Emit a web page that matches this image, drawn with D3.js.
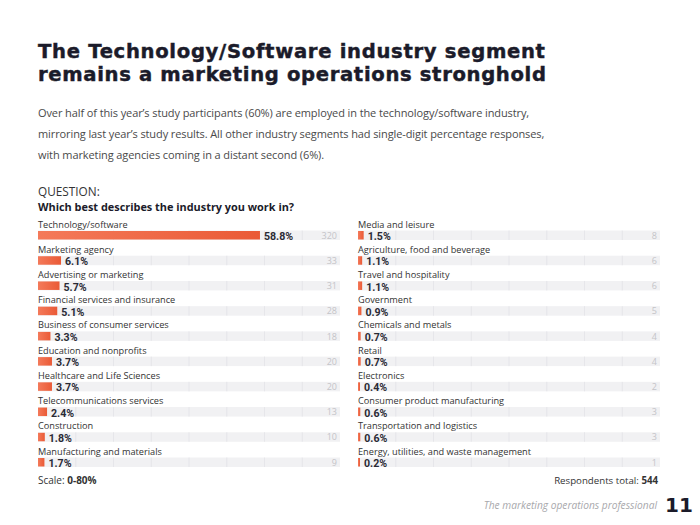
<!DOCTYPE html>
<html><head><meta charset="utf-8">
<script src="https://cdn.jsdelivr.net/npm/d3@7/dist/d3.min.js"></script>
<style>
html,body{margin:0;padding:0;background:#fff;}
svg{display:block;font-family:"Open Sans",sans-serif;}
</style></head>
<body>
<svg id="c" width="700" height="525"></svg>
<script>
const leftCategories = ["Technology/software","Marketing agency","Advertising or marketing","Financial services and insurance","Business of consumer services","Education and nonprofits","Healthcare and Life Sciences","Telecommunications services","Construction","Manufacturing and materials"];
const leftPercents = [58.8,6.1,5.7,5.1,3.3,3.7,3.7,2.4,1.8,1.7];
const leftCounts = [320,33,31,28,18,20,20,13,10,9];
const rightCategories = ["Media and leisure","Agriculture, food and beverage","Travel and hospitality","Government","Chemicals and metals","Retail","Electronics","Consumer product manufacturing","Transportation and logistics","Energy, utilities, and waste management"];
const rightPercents = [1.5,1.1,1.1,0.9,0.7,0.7,0.4,0.6,0.6,0.2];
const rightCounts = [8,6,6,5,4,4,2,3,3,1];
const gridTicks = [10,20,30,40,50,60,70];
const scaleMax = 80;
const respondentsTotal = 544;

const svg = d3.select("#c");
const defs = svg.append("defs");
const grad = defs.append("linearGradient").attr("id","barGrad").attr("x1","0").attr("x2","1").attr("y1","0").attr("y2","0");
grad.append("stop").attr("offset","0%").attr("stop-color","#f47a5a");
grad.append("stop").attr("offset","100%").attr("stop-color","#ea5a36");

// Title: letter-spacing fitted to the reference width
const titleLines = ["The Technology/Software industry segment","remains a marketing operations stronghold"];
const titleWidths = [507, 508];
const titleG = svg.append("g").attr("font-family","'DejaVu Sans',sans-serif").attr("font-weight","bold").attr("fill","#1b1b2a").attr("stroke","#1b1b2a").attr("stroke-width",0.45).attr("font-size","19.6px");
titleLines.forEach((t,i)=>{
  const ts = titleG.append("text").attr("x",38).attr("y",57.5+i*23).text(t);
  const nat = ts.node().getComputedTextLength();
  ts.attr("letter-spacing", ((titleWidths[i]-nat)/(t.length-1)).toFixed(3)+"px");
});

const sub = svg.append("g").attr("font-size","11px").attr("letter-spacing","-0.1px").attr("fill","#4a4a4a");
["Over half of this year’s study participants (60%) are employed in the technology/software industry,",
 "mirroring last year’s study results. All other industry segments had single-digit percentage responses,",
 "with marketing agencies coming in a distant second (6%)."].forEach((t,i)=>{
  sub.append("text").attr("x",38).attr("y",117+i*21).text(t);
});

svg.append("text").attr("x",38).attr("y",196).attr("font-size","11.8px").attr("fill","#333").text("QUESTION:");
svg.append("text").attr("x",38).attr("y",211).attr("font-size","10.9px").attr("font-weight","bold").attr("fill","#1b1b2a").text("Which best describes the industry you work in?");

const rowY = d3.scaleLinear().domain([0,9]).range([224,451]);

function panel(x0, x1, cats, pcts, counts){
  const x = d3.scaleLinear().domain([0,scaleMax]).range([x0,x1]);
  const g = svg.append("g");
  cats.forEach((c,i)=>{
    const cy = rowY(i);
    const ty = cy + 6.5;
    g.append("text").attr("x",x0).attr("y",cy+3.5).attr("font-size","9.2px").attr("fill","#333").text(c);
    g.append("rect").attr("x",x0).attr("y",ty).attr("width",x(scaleMax)-x0).attr("height",9.5).attr("fill","#f1f1f3");
    gridTicks.forEach(t=>{
      g.append("line").attr("x1",x(t)).attr("x2",x(t)).attr("y1",ty).attr("y2",ty+9.5).attr("stroke","#e3e3e7").attr("stroke-width",0.8);
    });
    const w = Math.max(x(pcts[i])-x0, 2);
    g.append("rect").attr("x",x0).attr("y",ty+0.5).attr("width",w).attr("height",8.5).attr("fill","url(#barGrad)");
    g.append("text").attr("x",x0+w+4).attr("y",cy+16.16).attr("font-family","Roboto,sans-serif").attr("font-size","10.6px").attr("font-weight","bold").attr("fill","#2a2a35").text(pcts[i].toFixed(1)+"%");
    g.append("text").attr("x",x1-3).attr("y",ty+8.2).attr("text-anchor","end").attr("font-size","9px").attr("fill","#c4c4c8").text(counts[i]);
  });
}
panel(38, 340, leftCategories, leftPercents, leftCounts);
panel(358, 660, rightCategories, rightPercents, rightCounts);

const sc = svg.append("text").attr("x",38).attr("y",484).attr("font-size","10px").attr("fill","#333");
sc.append("tspan").text("Scale: ");
sc.append("tspan").attr("font-weight","bold").text("0-"+scaleMax+"%");

const rt = svg.append("text").attr("x",658).attr("y",484).attr("text-anchor","end").attr("font-size","9.7px").attr("fill","#333");
rt.append("tspan").text("Respondents total: ");
rt.append("tspan").attr("font-weight","bold").text(respondentsTotal);

svg.append("text").attr("x",657).attr("y",509).attr("text-anchor","end").attr("font-size","10.2px").attr("font-style","italic").attr("fill","#a8a8ac").text("The marketing operations professional");
svg.append("text").attr("x",665).attr("y",512).attr("font-size","20px").attr("font-weight","bold").attr("fill","#1b1b2a").attr("font-family","'DejaVu Sans',sans-serif").text("11");
</script>
</body></html>
